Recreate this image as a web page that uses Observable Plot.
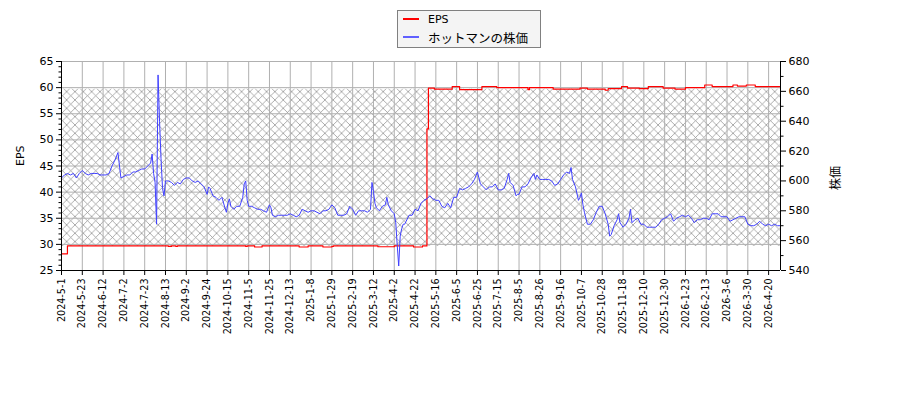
<!DOCTYPE html>
<html><head><meta charset="utf-8">
<script src="https://cdn.jsdelivr.net/npm/d3@7"></script>
<script src="https://cdn.jsdelivr.net/npm/@observablehq/plot@0.6"></script>
<style>
body{margin:0;background:#fff;font-family:"DejaVu Sans","Noto Sans CJK JP",sans-serif;}
#wrap{position:relative;width:900px;height:400px;}
#legend{position:absolute;left:397px;top:10px;width:144px;height:38px;border:1px solid #808080;background:#f4f4f4;box-sizing:border-box;color:#000;}
.row{position:absolute;left:0;height:16px;display:flex;align-items:center;white-space:nowrap}
.sw{display:inline-block;width:16px;height:0;margin-left:5px;margin-right:9px}
</style></head><body>
<div id="wrap"><div id="legend">
<div class="row" style="top:0px"><span class="sw" style="border-top:2px solid #ff0000"></span><span style="font-size:11px">EPS</span></div>
<div class="row" style="top:18px"><span class="sw" style="border-top:2px solid #6060ff"></span><span style="font-size:12.5px;font-family:'Noto Sans CJK JP',sans-serif">ホットマンの株価</span></div>
</div></div>
<script>
// x tick labels (every 14 trading days)
const tickLabels = ["2024-5-1","2024-5-23","2024-6-12","2024-7-2","2024-7-23","2024-8-13","2024-9-2","2024-9-24","2024-10-15","2024-11-5","2024-11-25","2024-12-13","2025-1-8","2025-1-29","2025-2-19","2025-3-12","2025-4-2","2025-4-22","2025-5-16","2025-6-5","2025-6-25","2025-7-15","2025-8-5","2025-8-26","2025-9-16","2025-10-7","2025-10-28","2025-11-18","2025-12-10","2025-12-30","2026-1-23","2026-2-13","2026-3-6","2026-3-30","2026-4-20"];
const tickStep = 14;
const lastDay = 484;

// EPS (left axis), step change points: trading-day index and value
const epsDay = [0,4,72,74,77,78,124,125,130,135,160,166,176,182,183,213,224,237,243,246,247,251,263,268,283,293,314,315,331,349,354,366,368,377,381,389,395,405,413,420,433,438,452,455,461,467,484];
const epsVal = [28.2,29.7,29.6,29.7,29.6,29.7,29.6,29.7,29.5,29.7,29.5,29.7,29.5,29.6,29.7,29.55,29.7,29.5,29.7,52.1,59.9,59.7,60.2,59.6,60.2,60.0,59.6,60.0,59.7,59.9,59.7,59.5,59.8,60.2,59.9,59.8,60.2,59.9,59.7,60.0,60.5,60.2,60.5,60.3,60.5,60.2,60.2];

// hatched band (EPS units)
const bandLow = 29.6;
const bandHigh = 59.7;

// stock price (right axis, yen)
const priceDay = [0,2,4,6,8,10,12,14,16,18,20,22,24,26,28,30,32,34,36,38,40,42,44,46,48,50,52,54,56,58,60,61,62,63,64,65,66,67,68,69,70,72,74,76,78,80,82,84,86,88,90,92,94,96,98,99,100,102,104,106,108,110,111,112,113,114,116,118,120,122,123,124,125,126,128,130,132,134,136,138,140,141,142,144,146,148,150,152,154,156,158,160,162,164,166,168,170,172,174,176,178,180,182,184,186,188,190,192,194,196,198,200,202,204,206,208,209,210,211,212,214,216,218,219,220,222,224,225,226,227,228,229,230,231,232,234,236,238,240,242,244,246,248,250,252,254,256,258,260,262,264,266,268,270,272,274,276,278,280,281,282,284,286,288,290,292,294,296,298,300,301,302,304,306,307,308,310,312,314,316,318,319,320,322,324,326,328,330,332,334,336,338,340,342,343,344,346,348,349,350,351,352,354,356,358,360,362,364,366,368,369,370,372,374,375,376,378,380,382,383,384,386,388,390,392,394,396,398,400,402,404,406,408,410,412,414,416,418,420,422,424,426,428,430,432,434,436,438,440,442,444,446,448,450,452,454,456,458,460,462,464,466,468,470,472,474,476,478,480,482,484];
const price = [602,604,605,604,605,602,605,607,605,604,605,605,605,604,604,604,605,610,614,619,602,603,604,604,606,606,607,608,608,610,612,618,605,599,571,671,640,615,595,590,600,600,599,597,599,598,601,602,602,600,599,600,598,596,591,596,595,590,589,587,589,582,579,585,588,583,581,583,583,589,598,600,587,583,583,582,581,581,580,579,584,582,577,576,577,577,577,577,578,577,576,577,581,580,579,580,580,579,578,580,580,581,584,582,577,577,577,578,583,581,577,580,580,580,579,581,599,593,585,582,580,583,584,589,584,580,578,572,557,543,563,568,571,571,573,577,577,581,580,585,587,588,590,588,587,587,583,582,585,582,589,589,595,594,595,596,598,601,606,602,598,596,594,596,596,598,594,594,595,601,605,599,597,590,591,591,596,596,598,602,605,601,604,601,601,601,601,600,597,598,601,604,606,605,609,601,596,587,589,592,584,579,571,571,574,579,583,583,578,571,563,564,570,574,578,572,569,571,575,581,572,574,575,571,571,569,569,569,569,571,574,575,576,578,573,575,576,577,576,577,575,572,574,574,575,575,574,578,578,578,576,576,576,573,574,575,576,576,576,571,570,570,571,573,571,570,571,570,571,570,570];

// axes definitions
const epsMin = 25, epsMax = 65;
const priceMin = 540, priceMax = 680;
const epsTicks = [25,30,35,40,45,50,55,60,65];
const epsMinor = d3.range(25, 66, 1).filter(v => v % 5 !== 0);
const priceTicks = [540,560,580,600,620,640,660,680];
const priceMinor = [550,570,590,610,630,650,670];

const toY = p => epsMin + (p - priceMin) * (epsMax - epsMin) / (priceMax - priceMin);
const fromY = y => Math.round(priceMin + (y - epsMin) * (priceMax - priceMin) / (epsMax - epsMin));

const xTicks = tickLabels.map((_, i) => i * tickStep);
const labelOf = new Map(xTicks.map((t, i) => [t, tickLabels[i]]));

const epsData = epsDay.map((d, i) => ({day: d, v: epsVal[i]}));
const priceData = priceDay.map((d, i) => ({day: d, y: toY(price[i])}));

const chart = Plot.plot({
  width: 900, height: 400,
  marginLeft: 61, marginRight: 120, marginTop: 61, marginBottom: 130,
  style: {fontFamily: "'DejaVu Sans','Noto Sans CJK JP',sans-serif", fontSize: "11px", color: "#000", background: "transparent"},
  x: {domain: [0, lastDay]},
  y: {domain: [epsMin, epsMax]},
  marks: [
    Plot.rect([{}], {x1: 0, x2: lastDay, y1: bandLow, y2: bandHigh, fill: "url(#hatch)"}),
    Plot.gridX(xTicks, {stroke: "#b0b0b0", strokeOpacity: 1, strokeWidth: 1}),
    Plot.gridY(epsTicks, {stroke: "#b0b0b0", strokeOpacity: 1, strokeWidth: 1}),
    Plot.line(epsData, {x: "day", y: "v", stroke: "#ff0000", strokeWidth: 1.2, curve: "step-after"}),
    Plot.line(priceData, {x: "day", y: "y", stroke: "#4040ff", strokeWidth: 1}),
    Plot.ruleX([0, lastDay], {stroke: "#000", strokeWidth: 1}),
    Plot.ruleY([epsMin], {stroke: "#000", strokeWidth: 1}),
    Plot.axisX(xTicks, {anchor: "bottom", tickSize: 5, tickRotate: -90, tickPadding: 3, fontSize: 9.6, tickFormat: d => labelOf.get(d), label: null}),
    Plot.axisY(epsTicks, {anchor: "left", tickSize: 5, tickPadding: 3, fontSize: 11, label: null}),
    Plot.axisY(epsMinor, {anchor: "left", tickSize: 2.5, tickFormat: () => "", label: null}),
    Plot.axisY(priceTicks.map(toY), {anchor: "right", tickSize: 5, tickPadding: 3, fontSize: 11, tickFormat: fromY, label: null}),
    Plot.axisY(priceMinor.map(toY), {anchor: "right", tickSize: 2.5, tickFormat: () => "", label: null}),
    Plot.text(["EPS"], {frameAnchor: "left", dx: -41, rotate: -90, fontSize: 11, fill: "#000"}),
    Plot.text(["株価"], {frameAnchor: "right", dx: 56, rotate: -90, fontSize: 12, fill: "#000"})
  ]
});

const svg = d3.select(chart);
const defs = svg.insert("defs", ":first-child");
const pat = defs.append("pattern").attr("id", "hatch").attr("patternUnits", "userSpaceOnUse")
  .attr("width", 8.33).attr("height", 8.33);
pat.append("path").attr("d", "M0,0L8.33,8.33M8.33,0L0,8.33M-1,7.33L1,9.33M7.33,-1L9.33,1")
  .attr("stroke", "#8a8a8a").attr("stroke-width", 0.7).attr("fill", "none");
chart.style.position = "absolute";
chart.style.left = "0"; chart.style.top = "0";
document.getElementById("wrap").insertBefore(chart, document.getElementById("legend"));
</script>
</body></html>
